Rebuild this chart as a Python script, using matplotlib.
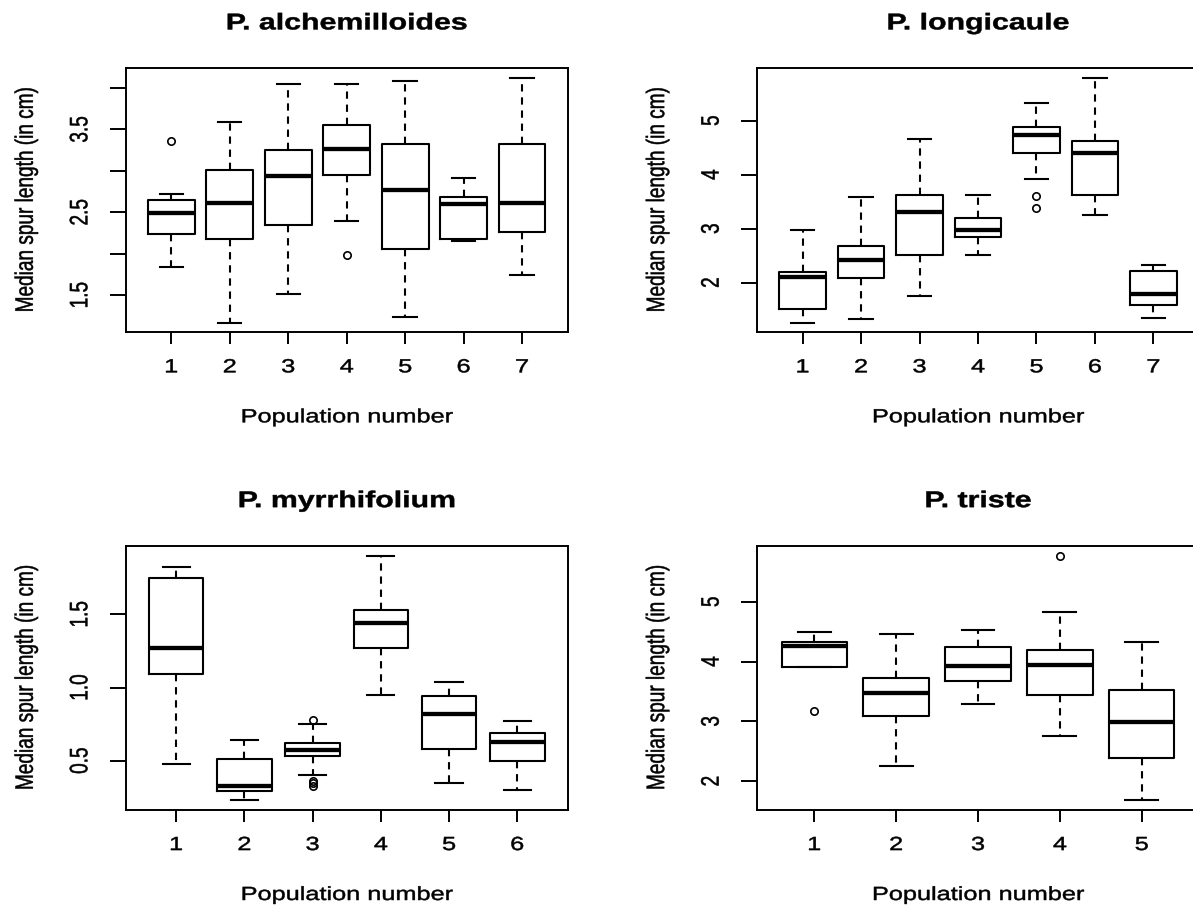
import matplotlib
matplotlib.use("Agg")
import matplotlib.pyplot as plt
from matplotlib.patheffects import AbstractPathEffect
from matplotlib.transforms import Affine2D

plt.rcParams['font.family'] = ['Liberation Sans', 'DejaVu Sans']

# ---------------- data ----------------
titles = ["P. alchemilloides", "P. longicaule", "P. myrrhifolium", "P. triste"]

alch_lo = [1.84, 1.17, 1.51, 2.40, 1.24, 2.15, 1.74]
alch_q1 = [2.24, 2.18, 2.35, 2.95, 2.06, 2.18, 2.26]
alch_med = [2.49, 2.61, 2.94, 3.27, 2.77, 2.60, 2.61]
alch_q3 = [2.65, 3.01, 3.25, 3.55, 3.32, 2.69, 3.32]
alch_hi = [2.72, 3.59, 4.05, 4.05, 4.09, 2.92, 4.12]
alch_out = [[3.36], [], [], [1.99], [], [], []]

long_lo = [1.26, 1.32, 1.75, 2.52, 3.92, 3.26, 1.34]
long_q1 = [1.51, 2.08, 2.52, 2.85, 4.40, 3.63, 1.58]
long_med = [2.11, 2.41, 3.31, 2.98, 4.74, 4.40, 1.79]
long_q3 = [2.19, 2.68, 3.63, 3.20, 4.89, 4.63, 2.22]
long_hi = [2.98, 3.59, 4.67, 3.63, 5.33, 5.79, 2.33]
long_out = [[], [], [], [], [3.60, 3.38], [], []]

myrr_lo = [0.48, 0.23, 0.40, 0.95, 0.35, 0.30]
myrr_q1 = [1.09, 0.29, 0.53, 1.27, 0.58, 0.50]
myrr_med = [1.27, 0.33, 0.57, 1.44, 0.82, 0.63]
myrr_q3 = [1.75, 0.51, 0.62, 1.53, 0.94, 0.69]
myrr_hi = [1.82, 0.64, 0.75, 1.90, 1.04, 0.77]
myrr_out = [[], [], [0.78, 0.36, 0.345, 0.33], [], [], []]

trist_lo = [3.91, 2.26, 3.29, 2.75, 1.68]
trist_q1 = [3.91, 3.09, 3.68, 3.44, 2.39]
trist_med = [4.26, 3.48, 3.93, 3.95, 2.99]
trist_q3 = [4.32, 3.73, 4.24, 4.20, 3.53]
trist_hi = [4.49, 4.46, 4.52, 4.83, 4.32]
trist_out = [[3.17], [], [], [5.77], []]

yticks = [[1.5, 2.0, 2.5, 3.0, 3.5, 4.0], [2, 3, 4, 5], [0.5, 1.0, 1.5], [2, 3, 4, 5]]
yticklabels = [["1.5", "", "2.5", "", "3.5", ""], ["2", "3", "4", "5"],
               ["0.5", "1.0", "1.5"], ["2", "3", "4", "5"]]

xlabel = "Population number"
ylabel = "Median spur length (in cm)"

panels = [
    (alch_lo, alch_q1, alch_med, alch_q3, alch_hi, alch_out),
    (long_lo, long_q1, long_med, long_q3, long_hi, long_out),
    (myrr_lo, myrr_q1, myrr_med, myrr_q3, myrr_hi, myrr_out),
    (trist_lo, trist_q1, trist_med, trist_q3, trist_hi, trist_out),
]


# horizontal stretch of text (the reference is widened horizontally),
# with a thin stroke to mimic the heavier original rendering
class HStretch(AbstractPathEffect):
    def __init__(self, sx, stroke=0.0):
        super().__init__()
        self.sx = sx
        self.stroke = stroke

    def draw_path(self, renderer, gc, tpath, affine, rgbFace=None):
        ext = tpath.get_extents(affine)
        cx = 0.5 * (ext.x0 + ext.x1)
        new = affine + Affine2D().translate(-cx, 0).scale(self.sx, 1).translate(cx, 0)
        gc0 = renderer.new_gc()
        gc0.copy_properties(gc)
        gc0.set_linewidth(self.stroke)
        renderer.draw_path(gc0, tpath, new, rgbFace)
        gc0.restore()


SX = 1.33
STROKE = 0.35
W, H = 1193, 906
fig = plt.figure(figsize=(W / 100, H / 100), dpi=100)

ax_w, ax_h = 442, 264
lefts = [125.7, 757, 125.7, 757]
tops = [68.3, 68.3, 546, 546]

BASE = 13.7
LW = 1.5
for i, (lo, q1, med, q3, hi, out) in enumerate(panels):
    l, t = lefts[i], tops[i]
    ax = fig.add_axes([l / W, 1 - (t + ax_h) / H, ax_w / W, ax_h / H])
    n = len(med)
    stats = [dict(med=med[k], q1=q1[k], q3=q3[k], whislo=lo[k], whishi=hi[k],
                  fliers=out[k]) for k in range(n)]
    ax.bxp(stats, positions=list(range(1, n + 1)), widths=0.8, capwidths=0.4,
           manage_ticks=False,
           boxprops=dict(color='black', lw=LW),
           medianprops=dict(color='black', lw=3.1, solid_capstyle='butt'),
           whiskerprops=dict(color='black', lw=LW, linestyle=(0, (3.5, 2.8))),
           capprops=dict(color='black', lw=LW),
           flierprops=dict(marker='o', markerfacecolor='none', markeredgecolor='black',
                           markersize=5.3, markeredgewidth=1.2))
    allv = lo + hi + [v for o in out for v in o]
    ymin, ymax = min(allv), max(allv)
    r = ymax - ymin
    ax.set_ylim(ymin - 0.04 * r, ymax + 0.04 * r)
    ax.set_xlim(0.5 - 0.04 * n, n + 0.5 + 0.04 * n)

    ax.set_xticks(list(range(1, n + 1)))
    ax.set_xticklabels([str(k) for k in range(1, n + 1)])
    ax.set_yticks(yticks[i])
    ax.set_yticklabels(yticklabels[i])

    for s in ax.spines.values():
        s.set_linewidth(1.4)
    ax.tick_params(axis='x', length=8.9, width=1.4, pad=16.7, labelsize=BASE)
    ax.tick_params(axis='y', length=11.3, width=1.4, pad=21.1, labelsize=BASE,
                   labelrotation=90)
    for lab in ax.get_xticklabels():
        lab.set_va('center')
        lab.set_path_effects([HStretch(SX, STROKE)])
    for lab in ax.get_yticklabels():
        lab.set_ha('center')
        lab.set_va('center')
        lab.set_path_effects([HStretch(SX, STROKE)])

    ttl = ax.set_title(titles[i], fontsize=16.4, fontweight='bold', pad=28)
    ttl.set_path_effects([HStretch(SX, STROKE)])

    xl = ax.set_xlabel(xlabel, fontsize=BASE)
    ax.xaxis.set_label_coords(0.5, -90.0 / ax_h)
    xl.set_va('baseline')
    xl.set_path_effects([HStretch(SX, STROKE)])

    yl = ax.set_ylabel(ylabel, fontsize=BASE)
    ax.yaxis.set_label_coords(-99.0 / ax_w, 0.5)
    yl.set_va('center')
    yl.set_path_effects([HStretch(SX, STROKE)])

fig.savefig("out.png", dpi=100, facecolor='white')
